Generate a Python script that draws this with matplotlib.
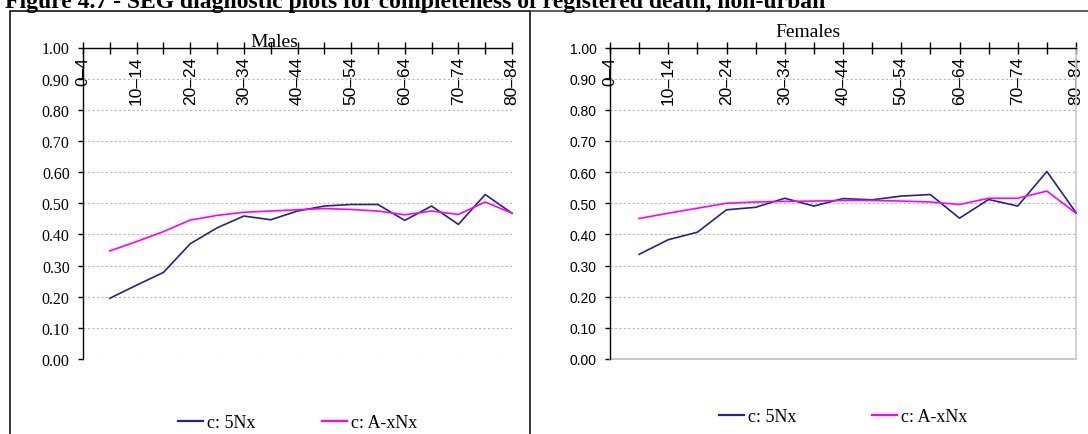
import numpy as np
import matplotlib.pyplot as plt
from matplotlib.lines import Line2D
from matplotlib.patches import Rectangle
from matplotlib.ticker import FormatStrFormatter

nan = np.nan

# age groups (x categories)
ages = ['0–4', '5–9', '10–14', '15–19', '20–24', '25–29', '30–34', '35–39', '40–44',
        '45–49', '50–54', '55–59', '60–64', '65–69', '70–74', '75–79', '80–84']

# SEG values (no value for 0-4)
males_5nx = [nan, 0.195, 0.237, 0.278, 0.370, 0.421, 0.459, 0.447, 0.475,
             0.491, 0.496, 0.496, 0.445, 0.491, 0.432, 0.528, 0.468]
males_axnx = [nan, 0.347, 0.377, 0.409, 0.446, 0.461, 0.471, 0.475, 0.479,
              0.483, 0.480, 0.475, 0.463, 0.475, 0.464, 0.504, 0.468]
females_5nx = [nan, 0.336, 0.383, 0.407, 0.479, 0.487, 0.516, 0.491, 0.515,
               0.511, 0.523, 0.528, 0.452, 0.512, 0.491, 0.602, 0.470]
females_axnx = [nan, 0.451, 0.468, 0.484, 0.500, 0.504, 0.506, 0.507, 0.509,
                0.509, 0.507, 0.504, 0.496, 0.516, 0.516, 0.539, 0.468]

series_names = ['c: 5Nx', 'c: A-xNx']
figure_title = 'Figure 4.7 - SEG diagnostic plots for completeness of registered death, non-urban'

SERIF = 'Liberation Serif'
SANS = 'Liberation Sans'
C_5NX = '#24248a'
C_AXNX = '#ff00ff'

W, H = 1088, 435
fig = plt.figure(figsize=(W / 100, H / 100), dpi=100)


def px(x0, y0, x1, y1):
    # pixel box (top-left origin) -> figure fraction rect
    return [x0 / W, 1 - y1 / H, (x1 - x0) / W, (y1 - y0) / H]


def draw_panel(ax, s1, s2, ylab_font, ylab_size, right_frame, leg_y, colsp):
    x = np.arange(len(ages))
    ax.plot(x, s1, color=C_5NX, lw=1.2, clip_on=False, zorder=3)
    ax.plot(x, s2, color=C_AXNX, lw=1.2, clip_on=False, zorder=3)
    ax.set_xlim(0, len(ages) - 1)
    ax.set_ylim(0, 1)

    # category axis sits on top at y=1.00, labels hang inside the plot
    ax.spines['bottom'].set_position(('data', 1.0))
    ax.spines['bottom'].set_linewidth(1.0)
    ax.spines['top'].set_visible(False)
    ax.set_xticks(x)
    ax.set_xticklabels([a if i % 2 == 0 else '' for i, a in enumerate(ages)],
                       rotation=90, fontfamily=SANS, fontsize=12.5)
    ax.tick_params(axis='x', direction='inout', length=9, width=1, pad=1.5)

    ax.set_yticks(np.arange(0, 1.01, 0.1))
    ax.yaxis.set_major_formatter(FormatStrFormatter('%.2f'))
    for t in ax.get_yticklabels():
        t.set_fontfamily(ylab_font)
        t.set_fontsize(ylab_size)
    ax.tick_params(axis='y', direction='out', length=3.6, width=1, pad=6)
    ax.spines['left'].set_linewidth(1.0)

    ax.yaxis.grid(True, linestyle=(0, (2, 2)), color='#b8b8b8', lw=0.8)
    ax.set_axisbelow(True)

    if right_frame:
        ax.spines['right'].set_color('#c8c8c8')
        ax.spines['right'].set_linewidth(1.2)
        ax.axhline(0, color='#c8c8c8', lw=1.4, clip_on=False, zorder=2)
    else:
        ax.spines['right'].set_visible(False)

    handles = [Line2D([], [], color=C_5NX, lw=1.6), Line2D([], [], color=C_AXNX, lw=1.6)]
    ax.legend(handles, series_names, loc='center', bbox_to_anchor=(0.5, leg_y), ncol=2,
              frameon=False, prop={'family': SERIF, 'size': 13}, handlelength=1.4,
              handletextpad=0.2, columnspacing=colsp)


ax1 = fig.add_axes(px(83, 48.5, 512, 360))
draw_panel(ax1, males_5nx, males_axnx, SERIF, 11.5, False, -0.205, 3.7)

ax2 = fig.add_axes(px(610, 48.5, 1076, 360))
draw_panel(ax2, females_5nx, females_axnx, SANS, 10, True, -0.185, 4.2)

# panel titles
fig.text(274 / W, 1 - 47 / H, 'Males', ha='center', va='baseline', fontfamily=SERIF, fontsize=14)
fig.text(808 / W, 1 - 37 / H, 'Females', ha='center', va='baseline', fontfamily=SERIF, fontsize=14)

# figure caption, cut at the top edge like in the scan
fig.text(5 / W, 1 - 8 / H, figure_title, ha='left', va='baseline',
         fontfamily=SERIF, fontsize=17, fontweight='bold')

# chart frames
fig.add_artist(Rectangle((10 / W, -0.1), 520 / W, 1.1 - 12 / H, transform=fig.transFigure,
                         fill=False, ec='black', lw=1.1))
fig.add_artist(Line2D([530 / W, 1], [1 - 12 / H, 1 - 12 / H], transform=fig.transFigure,
                      color='#333333', lw=1.1))

fig.savefig('out.png', dpi=100)
